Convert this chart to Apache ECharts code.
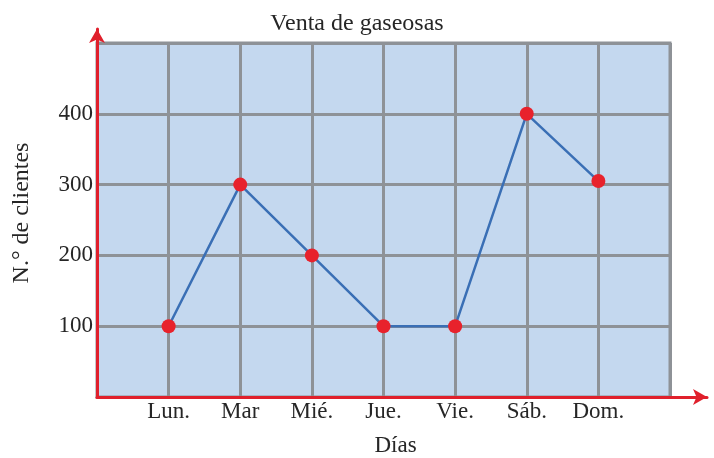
<!DOCTYPE html>
<html><head><meta charset="utf-8">
<script src="https://cdn.jsdelivr.net/npm/echarts@6/dist/echarts.min.js"></script>
<style>html,body{margin:0;padding:0;background:#fff}#c{width:714px;height:458px}</style>
</head><body><div id="c"></div>
<script>
const titleText = 'Venta de gaseosas';
const xName = 'Días';
const yName = 'N.° de clientes';
const categories = ['Lun.', 'Mar', 'Mié.', 'Jue.', 'Vie.', 'Sáb.', 'Dom.'];
const clientes = [100, 300, 200, 100, 100, 400, 305];
const yTickLabels = [100, 200, 300, 400];

const FONT = '"Liberation Serif", "Times New Roman", serif';
const TXT = '#262626';
const GRIDC = '#8e9297';
const RED = '#e0202c';

const axisCats = [''].concat(categories, ['']);
const seriesData = [null].concat(clientes, [null]);

const chart = echarts.init(document.getElementById('c'));
chart.setOption({
  animation: false,
  backgroundColor: '#ffffff',
  title: {
    text: titleText, left: 'center', top: 7,
    textStyle: {fontFamily: FONT, fontSize: 24, fontWeight: 'normal', color: TXT}
  },
  grid: [
    {left: 97, right: 44, top: 43, bottom: 61, show: true, backgroundColor: '#c4d8ef', borderColor: GRIDC, borderWidth: 3, z: 0,
     containLabel: false, outerBoundsMode: 'none'},
    {left: 97, right: 7, top: 29, bottom: 61, show: false, containLabel: false, outerBoundsMode: 'none'}
  ],
  xAxis: [
    {
      type: 'category', gridIndex: 0, data: axisCats, boundaryGap: false,
      axisLine: {show: false}, axisTick: {show: false},
      axisLabel: {interval: 0, margin: 3, fontFamily: FONT, fontSize: 23, color: TXT},
      splitLine: {show: true, lineStyle: {color: GRIDC, width: 3}},
      name: xName, nameLocation: 'middle', nameGap: 37,
      nameTextStyle: {fontFamily: FONT, fontSize: 23, color: TXT, padding: [0, 0, 0, 24]}
    },
    {
      type: 'value', gridIndex: 1, min: 0, max: 1, z: 10,
      axisLine: {show: true, symbol: ['none', 'arrow'], symbolSize: [12, 14], lineStyle: {color: RED, width: 3}},
      axisTick: {show: false}, axisLabel: {show: false}, splitLine: {show: false}
    }
  ],
  yAxis: [
    {
      type: 'value', gridIndex: 0, min: 0, max: 500, interval: 100,
      axisLine: {show: false}, axisTick: {show: false},
      axisLabel: {margin: 4, fontFamily: FONT, fontSize: 23, color: TXT,
        formatter: v => yTickLabels.includes(v) ? String(v) : ''},
      splitLine: {show: true, lineStyle: {color: GRIDC, width: 3}}
    },
    {
      type: 'value', gridIndex: 1, min: 0, max: 1, z: 10,
      axisLine: {show: true, symbol: ['none', 'arrow'], symbolSize: [12, 14], lineStyle: {color: RED, width: 3}},
      axisTick: {show: false}, axisLabel: {show: false}, splitLine: {show: false},
      name: yName, nameLocation: 'middle', nameGap: 63, nameRotate: 90,
      nameTextStyle: {fontFamily: FONT, fontSize: 24, color: TXT}
    }
  ],
  series: [{
    type: 'line', xAxisIndex: 0, yAxisIndex: 0, data: seriesData,
    z: 5,
    lineStyle: {color: '#3a6fb5', width: 2.5},
    symbol: 'circle', symbolSize: 14, showAllSymbol: true,
    itemStyle: {color: '#e8222c'}
  }]
});
</script></body></html>
